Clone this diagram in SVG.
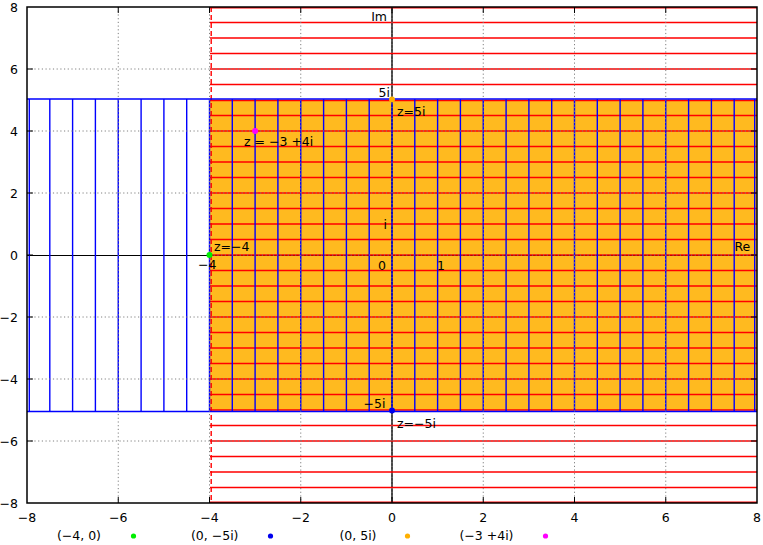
<svg xmlns="http://www.w3.org/2000/svg" width="763" height="545" viewBox="0 0 763 545">
<style>
.t{font-family:"DejaVu Sans","Liberation Sans",sans-serif;font-size:12.5px;fill:#000}
.e{text-anchor:end}
.m{text-anchor:middle}
.grid{stroke:#808080;stroke-width:1;stroke-dasharray:1.2,2.5;fill:none}
.red{stroke:#ff0000;stroke-width:1.4;fill:none}
.blue{stroke:#0000ff;stroke-width:1.4;fill:none}
.axis{stroke:#000;fill:none}
.tick{stroke:#000;stroke-width:1;fill:none}
</style>
<rect width="763" height="545" fill="#fff"/>
<g id="region">
<rect x="209.5" y="99.5" width="547.5" height="311" fill="#ffb000" fill-opacity="0.88"/>
</g>
<g id="axes">
<path class="axis" stroke-width="1.6" stroke-opacity="0.9" d="M392 7V503"/>
<path class="axis" stroke-width="1.2" d="M27 255.5H757"/>
</g>
<g id="connectors">
<path class="red" d="M210 7.8H757M210 22.5H757M210 38H757M210 53.5H757M210 69H757M210 84.5H757M210 100.5H757M210 115.5H757M210 131H757M210 146.5H757M210 162H757M210 177.5H757M210 193H757M210 208.5H757M210 224H757M210 239.5H757M210 255H757M210 270.5H757M210 286H757M210 301.5H757M210 317H757M210 332.5H757M210 348H757M210 363.5H757M210 379H757M210 394.5H757M210 410H757M210 425.5H757M210 441H757M210 456.5H757M210 472H757M210 487.5H757M210 502.3H757"/>
<path class="red" stroke-width="1.5" stroke-dasharray="5,3" d="M211.2 7V503"/>
<path class="blue" d="M29.3 99V411.5M49.8 99V411.5M72.6 99V411.5M95.4 99V411.5M118.25 99V411.5M141.1 99V411.5M163.9 99V411.5M186.7 99V411.5M209.5 99V411.5M232.3 99V411.5M255.1 99V411.5M277.9 99V411.5M300.75 99V411.5M323.6 99V411.5M346.4 99V411.5M369.2 99V411.5M392 99V411.5M414.8 99V411.5M437.6 99V411.5M460.4 99V411.5M483.25 99V411.5M506.1 99V411.5M528.9 99V411.5M551.7 99V411.5M574.5 99V411.5M597.3 99V411.5M620.1 99V411.5M642.9 99V411.5M665.75 99V411.5M688.6 99V411.5M711.4 99V411.5M734.2 99V411.5M754.7 99V411.5"/>
<path class="blue" d="M27 99H757M27 411.5H757"/>
</g>
<g id="grid">
<path class="grid" d="M118.25 7V503M209.5 7V503M300.75 7V503M392 7V503M483.25 7V503M574.5 7V503M665.75 7V503M27 69H757M27 131H757M27 193H757M210 255H757M27 317H757M27 379H757M27 441H757"/>
</g>
<g id="frame">
<path class="tick" d="M27 69h6M27 131h6M27 193h6M27 255h6M27 317h6M27 379h6M27 441h6M757 69h-6M757 131h-6M757 193h-6M757 255h-6M757 317h-6M757 379h-6M757 441h-6M118.25 7v6M209.5 7v6M300.75 7v6M392 7v6M483.25 7v6M574.5 7v6M665.75 7v6M118.25 503v-6M209.5 503v-6M300.75 503v-6M392 503v-6M483.25 503v-6M574.5 503v-6M665.75 503v-6"/>
<rect x="27" y="7" width="730" height="496" fill="none" stroke="#000" stroke-width="1.5"/>
</g>
<g id="ticklabels" class="t">
<text class="e" x="18" y="12">8</text>
<text class="e" x="18" y="74">6</text>
<text class="e" x="18" y="136">4</text>
<text class="e" x="18" y="198">2</text>
<text class="e" x="18" y="260">0</text>
<text class="e" x="18" y="322">−2</text>
<text class="e" x="18" y="384">−4</text>
<text class="e" x="18" y="446">−6</text>
<text class="e" x="18" y="508">−8</text>
<text class="m" x="27" y="522">−8</text>
<text class="m" x="118.25" y="522">−6</text>
<text class="m" x="209.5" y="522">−4</text>
<text class="m" x="300.75" y="522">−2</text>
<text class="m" x="392" y="522">0</text>
<text class="m" x="483.25" y="522">2</text>
<text class="m" x="574.5" y="522">4</text>
<text class="m" x="665.75" y="522">6</text>
<text class="m" x="757" y="522">8</text>
</g>
<g id="labels" class="t">
<text class="e" x="387" y="20.5">Im</text>
<text class="e" x="390" y="96.5">5i</text>
<text x="397" y="115.5">z=5i</text>
<text x="244" y="146">z = −3 +4i</text>
<text x="214" y="250.5">z=−4</text>
<text class="e" x="216.5" y="269">−4</text>
<text class="e" x="387" y="229">i</text>
<text x="378" y="270">0</text>
<text x="437" y="270">1</text>
<text x="734.5" y="251">Re</text>
<text class="e" x="385.5" y="408">−5i</text>
<text x="397" y="428">z=−5i</text>
</g>
<g id="points">
<circle cx="209.5" cy="255" r="3" fill="#00ee00"/>
<circle cx="392" cy="410.5" r="3" fill="#0000ee"/>
<circle cx="392" cy="99.5" r="3" fill="#ffb000"/>
<circle cx="255.1" cy="131" r="3" fill="#ff00ff"/>
</g>
<g id="legend" class="t">
<text class="e" x="101" y="540">(−4, 0)</text>
<circle cx="133.5" cy="536" r="2.6" fill="#00ee00"/>
<text class="e" x="238.5" y="540">(0, −5i)</text>
<circle cx="270.5" cy="536" r="2.6" fill="#0000ee"/>
<text class="e" x="376.5" y="540">(0, 5i)</text>
<circle cx="407.5" cy="536" r="2.6" fill="#ffb000"/>
<text class="e" x="513.5" y="540">(−3 +4i)</text>
<circle cx="545.5" cy="536" r="2.6" fill="#ff00ff"/>
</g>
</svg>
